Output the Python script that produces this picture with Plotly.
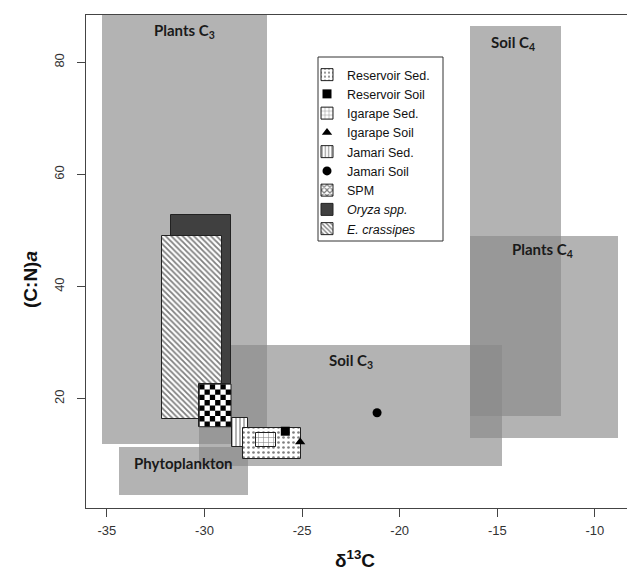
import numpy as np
import plotly.graph_objects as go

# ---------------- data ----------------
# Source end-member regions: delta13C range and (C:N)a range
SRC_NAMES = ["Plants C<sub>3</sub>", "Soil C<sub>3</sub>", "Phytoplankton",
             "Soil C<sub>4</sub>", "Plants C<sub>4</sub>"]
SRC_D13C_MIN = [-35.27, -30.28, -34.36, -16.40, -16.40]
SRC_D13C_MAX = [-26.81, -14.77, -27.79, -11.74, -8.82]
SRC_CN_MIN = [12.0, 8.0, 2.8, 17.0, 13.0]
SRC_CN_MAX = [90.0, 29.6, 11.3, 86.4, 49.0]
SRC_LABEL_X = [-31.0, -22.5, -31.1, -14.2, -12.7]
SRC_LABEL_Y = [85.5, 26.8, 8.6, 83.4, 46.5]

# Sample ranges drawn as boxes
RECT_NAMES = ["Oryza spp.", "E. crassipes", "SPM", "Jamari Sed.",
              "Reservoir Sed.", "Igarape Sed."]
RECT_D13C_MIN = [-31.70, -32.18, -30.27, -28.58, -28.04, -27.36]
RECT_D13C_MAX = [-28.62, -29.12, -28.64, -27.79, -25.04, -26.35]
RECT_CN_MIN = [18.0, 16.4, 15.0, 11.3, 9.2, 11.45]
RECT_CN_MAX = [52.8, 49.0, 22.6, 16.6, 14.7, 13.85]

# Single samples
POINT_NAMES = ["Reservoir Soil", "Igarape Soil", "Jamari Soil"]
POINT_D13C = [-25.86, -25.10, -21.16]
POINT_CN = [14.2, 12.3, 17.5]

LEGEND_ORDER = ["Reservoir Sed.", "Reservoir Soil", "Igarape Sed.", "Igarape Soil",
                "Jamari Sed.", "Jamari Soil", "SPM", "Oryza spp.", "E. crassipes"]

X_TICKS = [-35, -30, -25, -20, -15, -10]
X_TICK_TEXT = ["-35", "-30", "-25", "-20", "-15", "-10"]
Y_TICKS = [20, 40, 60, 80]

# ---------------- styles ----------------
GREY = "rgba(137,137,137,0.645)"
RECT_STYLE = {
    "Oryza spp.": dict(color="#404040", pattern=None, label="<i>Oryza spp.</i>"),
    "E. crassipes": dict(color="white", pattern=dict(shape="\\", size=4, solidity=0.45),
                         label="<i>E. crassipes</i>"),
    "SPM": dict(color="white", pattern=dict(shape="x", size=5, solidity=0.5), label="SPM"),
    "Jamari Sed.": dict(color="white", pattern=dict(shape="|", size=4, solidity=0.3),
                        label="Jamari Sed."),
    "Reservoir Sed.": dict(color="white", pattern=dict(shape=".", size=5, solidity=0.22),
                           label="Reservoir Sed."),
    "Igarape Sed.": dict(color="white", pattern=dict(shape="+", size=5, solidity=0.2),
                         label="Igarape Sed."),
}
POINT_SYMBOL = {"Reservoir Soil": "square", "Igarape Soil": "triangle-up",
                "Jamari Soil": "circle"}

fig = go.Figure()

# grey source regions
for i, name in enumerate(SRC_NAMES):
    x0, x1 = SRC_D13C_MIN[i], SRC_D13C_MAX[i]
    y0, y1 = SRC_CN_MIN[i], SRC_CN_MAX[i]
    fig.add_trace(go.Bar(
        x=[(x0 + x1) / 2], width=[x1 - x0], base=[y0], y=[y1 - y0],
        marker=dict(color=GREY, line=dict(width=0)),
        showlegend=False, hoverinfo="skip"))

# sample boxes
for i, name in enumerate(RECT_NAMES):
    st = RECT_STYLE[name]
    x0, x1 = RECT_D13C_MIN[i], RECT_D13C_MAX[i]
    y0, y1 = RECT_CN_MIN[i], RECT_CN_MAX[i]
    marker = dict(color=st["color"], line=dict(color="#222222", width=1))
    if st["pattern"] is not None:
        p = dict(st["pattern"])
        p.update(fgcolor="black", bgcolor="white", fillmode="overlay")
        marker["pattern"] = p
    fig.add_trace(go.Bar(
        x=[(x0 + x1) / 2], width=[x1 - x0], base=[y0], y=[y1 - y0],
        marker=marker, name=st["label"], legendrank=LEGEND_ORDER.index(name) + 1,
        hoverinfo="name"))
    if name == "SPM":
        # checkerboard fill built from the SPM box
        nx, ny = 6, 8
        xs = np.linspace(x0, x1, nx + 1)
        ys = np.linspace(y1, y0, ny + 1)
        wx = [x0, x1, x1, x0, x0]
        wy = [y0, y0, y1, y1, y0]
        bx, by = [], []
        for r in range(ny):
            for c in range(nx):
                if (r + c) % 2 == 0:
                    bx += [xs[c], xs[c + 1], xs[c + 1], xs[c], xs[c], None]
                    by += [ys[r], ys[r], ys[r + 1], ys[r + 1], ys[r], None]
        fig.add_trace(go.Scatter(x=wx, y=wy, mode="lines", fill="toself",
                                 fillcolor="white", line=dict(width=0),
                                 showlegend=False, hoverinfo="skip"))
        fig.add_trace(go.Scatter(x=bx, y=by, mode="lines", fill="toself",
                                 fillcolor="black", line=dict(width=0),
                                 showlegend=False, hoverinfo="skip"))
        fig.add_trace(go.Scatter(x=wx, y=wy, mode="lines",
                                 line=dict(color="#222222", width=1),
                                 showlegend=False, hoverinfo="skip"))

# single points
for i, name in enumerate(POINT_NAMES):
    fig.add_trace(go.Scatter(
        x=[POINT_D13C[i]], y=[POINT_CN[i]], mode="markers", name=name,
        marker=dict(symbol=POINT_SYMBOL[name], size=9, color="black"),
        legendrank=LEGEND_ORDER.index(name) + 1))

# region labels
annotations = []
for i, name in enumerate(SRC_NAMES):
    annotations.append(dict(
        x=SRC_LABEL_X[i], y=SRC_LABEL_Y[i], xref="x", yref="y", text="<b>%s</b>" % name,
        showarrow=False, font=dict(family="Lato", size=15, color="#1a1a1a")))

W, H = 627, 571
ML, MT, MB = 86, 15, 63
PW = W - ML
PH = H - MT - MB


def px2paper_x(px):
    return (px - ML) / PW


def px2paper_y(py):
    return (H - MB - py) / PH


annotations.append(dict(
    x=px2paper_x(355), y=px2paper_y(559), xref="paper", yref="paper",
    xanchor="center", yanchor="middle",
    text="<b>δ<sup>13</sup>C</b>", showarrow=False,
    font=dict(family="Liberation Sans", size=19, color="#111111")))
annotations.append(dict(
    x=px2paper_x(30), y=px2paper_y(280), xref="paper", yref="paper",
    xanchor="center", yanchor="middle",
    text="<b>(C:N)<i>a</i></b>", showarrow=False, textangle=-90,
    font=dict(family="Liberation Sans", size=19, color="#111111")))

# legend box (white frame under the legend)
shapes = [dict(type="rect", xref="paper", yref="paper",
               x0=px2paper_x(318), x1=px2paper_x(443),
               y0=px2paper_y(241), y1=px2paper_y(57),
               fillcolor="white", line=dict(color="#333333", width=1), layer="above")]

fig.update_layout(
    width=W, height=H,
    margin=dict(l=ML, r=0, t=MT, b=MB, pad=0),
    paper_bgcolor="white", plot_bgcolor="white",
    barmode="overlay", bargap=0,
    showlegend=True,
    legend=dict(x=px2paper_x(307), y=px2paper_y(60), xanchor="left", yanchor="top",
                bgcolor="rgba(0,0,0,0)", borderwidth=0,
                font=dict(family="Liberation Sans", size=12.5, color="#111111"),
                traceorder="normal"),
    annotations=annotations,
    shapes=shapes,
    font=dict(family="Liberation Sans"),
)
fig.update_xaxes(range=[-36.07, -8.356], tickvals=X_TICKS, ticktext=X_TICK_TEXT,
                 ticks="outside", ticklen=8,
                 tickcolor="#444444", showline=True, linecolor="#444444", linewidth=1,
                 mirror=True, showgrid=False, zeroline=False, ticklabelstandoff=2,
                 automargin=False,
                 tickfont=dict(family="Liberation Sans", size=13, color="#333333"))
fig.update_yaxes(range=[0.506, 88.44], tickvals=Y_TICKS, ticks="outside", ticklen=8,
                 tickcolor="#444444", showline=True, linecolor="#444444", linewidth=1,
                 mirror=False, showgrid=False, zeroline=False, tickangle=-90,
                 ticklabelstandoff=8, automargin=False,
                 tickfont=dict(family="Liberation Sans", size=13, color="#333333"))

fig.write_html("out.html", config={"displayModeBar": False},
               post_script="document.body.style.margin='0px';")
